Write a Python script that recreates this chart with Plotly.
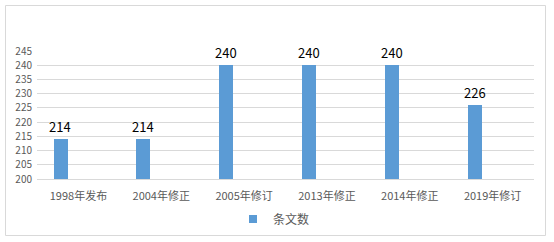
import plotly.graph_objects as go

categories = ["1998年发布", "2004年修正", "2005年修订", "2013年修正", "2014年修正", "2019年修订"]
values = [214, 214, 240, 240, 240, 226]
series_name = "条文数"
y_ticks = [200, 205, 210, 215, 220, 225, 230, 235, 240, 245]

W, H = 554, 242
L, R, T, B = 37, 20, 51, 63
pw, ph = W - L - R, H - T - B

def px_x(p):
    return (p - L) / pw

def px_y(p):
    return (H - B - p) / ph

font = "Noto Sans CJK SC, Microsoft YaHei, sans-serif"
bar_color = "#5b9bd5"

fig = go.Figure()
fig.add_trace(go.Bar(
    x=categories, y=values, name=series_name,
    marker=dict(color=bar_color, line=dict(width=0)),
    width=0.17, offset=-0.30,
    showlegend=False, hoverinfo="x+y",
))
# data labels placed above each bar
for c, v in zip(categories, values):
    fig.add_annotation(
        x=c, y=v, xref="x", yref="y", text=str(v), showarrow=False,
        xshift=-18, yshift=13, font=dict(color="#000000", size=13, family=font),
    )
# legend entry
fig.add_trace(go.Scatter(
    x=[None], y=[None], mode="markers", name=series_name,
    marker=dict(symbol="square", size=8, color=bar_color),
    showlegend=True,
))

fig.update_layout(
    width=W, height=H,
    margin=dict(l=L, r=R, t=T, b=B, autoexpand=False),
    paper_bgcolor="white", plot_bgcolor="white",
    font=dict(family=font, color="#595959", size=10),
    bargap=0,
    xaxis=dict(
        showgrid=False, showline=True, linecolor="#d9d9d9", linewidth=1,
        ticks="", tickfont=dict(size=11, color="#595959"), ticklabelstandoff=7,
        automargin=False,
    ),
    yaxis=dict(
        range=[200, 245], tickvals=y_ticks, showgrid=True, gridcolor="#d9d9d9",
        gridwidth=1, zeroline=False, showline=False, ticks="",
        tickfont=dict(size=10, color="#595959"), ticklabelstandoff=4,
        automargin=False,
    ),
    legend=dict(
        orientation="h", x=px_x(233), xanchor="left", y=px_y(219), yanchor="middle",
        font=dict(size=12, color="#595959"), itemwidth=30,
    ),
    shapes=[dict(
        type="rect", xref="paper", yref="paper",
        x0=px_x(5.5), x1=px_x(545.5), y0=px_y(235.5), y1=px_y(5.5),
        line=dict(color="#d9d9d9", width=1), fillcolor="rgba(0,0,0,0)", layer="below",
    )],
)

fig.write_html("out.html")
